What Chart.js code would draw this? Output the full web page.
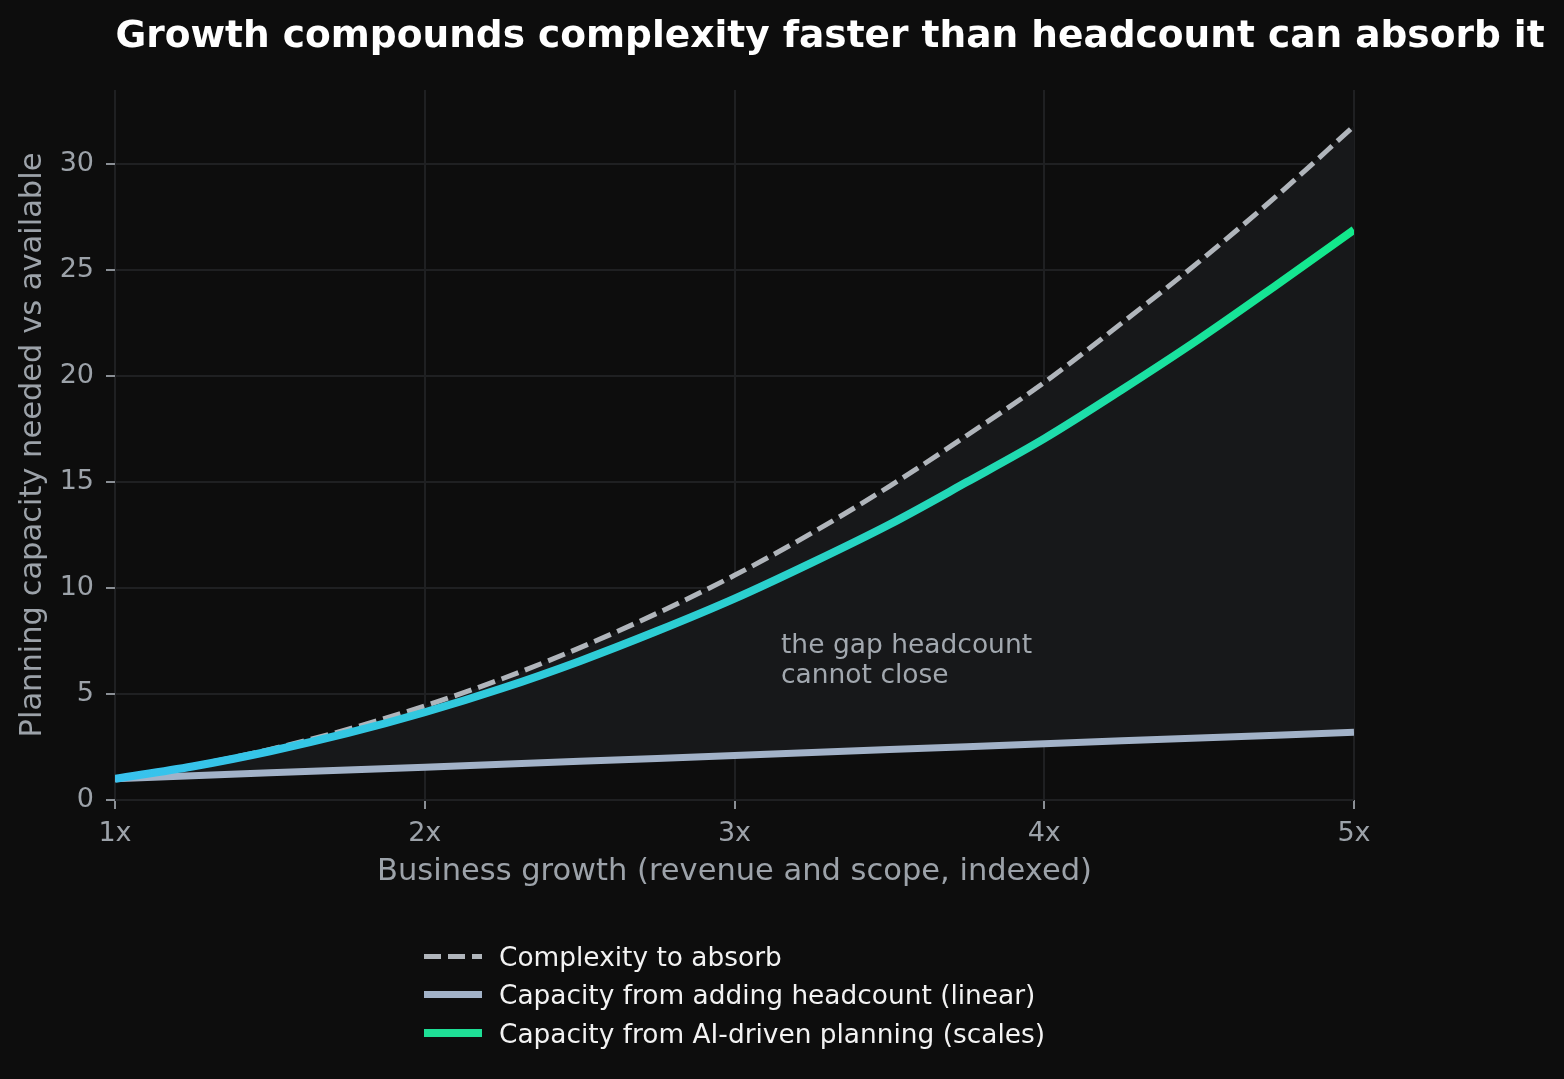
<!DOCTYPE html>
<html>
<head>
<meta charset="utf-8">
<script src="https://cdn.jsdelivr.net/npm/chart.js@4.4.1/dist/chart.umd.min.js"></script>
<style>
  html, body { margin: 0; padding: 0; background: #0d0d0d; overflow: hidden; }
  #wrap { position: relative; width: 1564px; height: 1079px; }
  #legend { position: absolute; left: 424px; top: 937px; font-family: "DejaVu Sans", sans-serif; font-size: 26.4px; color: #f2f2f2; }
  .row { display: flex; align-items: center; height: 38.5px; }
  .swatch { width: 58px; margin-right: 17px; }
</style>
</head>
<body>
<div id="wrap">
  <canvas id="myChart" width="1564" height="1079"></canvas>
  <div id="legend">
    <div class="row"><div class="swatch" style="height:5px;background:repeating-linear-gradient(to right,#b0b5bb 0 17px,transparent 17px 24px)"></div>Complexity to absorb</div>
    <div class="row"><div class="swatch" style="height:7px;background:#a2b2c8"></div>Capacity from adding headcount (linear)</div>
    <div class="row"><div class="swatch" style="height:8px;background:#1edf96"></div>Capacity from AI-driven planning (scales)</div>
  </div>
</div>
<script>
const growth = [1, 1.25, 1.5, 1.75, 2, 2.25, 2.5, 2.75, 3, 3.25, 3.5, 3.75, 4, 4.25, 4.5, 4.75, 5];
const complexity = [1, 1.62, 2.39, 3.33, 4.44, 5.72, 7.18, 8.81, 10.6, 12.6, 14.8, 17.2, 19.7, 22.5, 25.4, 28.5, 31.8];
const headcount = [1, 1.14, 1.28, 1.41, 1.55, 1.69, 1.83, 1.96, 2.1, 2.24, 2.38, 2.51, 2.65, 2.79, 2.93, 3.06, 3.2];
const aiPlanning = [1, 1.58, 2.3, 3.15, 4.14, 5.27, 6.55, 7.97, 9.5, 11.2, 13.0, 15.0, 17.05, 19.35, 21.75, 24.3, 26.9];
const xTicks = [1, 2, 3, 4, 5];
const yTicks = [0, 5, 10, 15, 20, 25, 30];

const FONT = '"DejaVu Sans", sans-serif';
const TICK_COLOR = '#9ca2a9';
const GRID_COLOR = '#1f2022';

function points(values) {
    return growth.map((g, i) => ({ x: g, y: values[i] }));
}

function aiGradient(context) {
    const area = context.chart.chartArea;
    if (!area) return '#2ccfd2';
    const g = context.chart.ctx.createLinearGradient(area.left, 0, area.right, 0);
    g.addColorStop(0, '#38c2ee');
    g.addColorStop(0.5, '#2bcfd0');
    g.addColorStop(1, '#12e98a');
    return g;
}

// title + annotation text
const textPlugin = {
    id: 'texts',
    afterDraw(chart) {
        const ctx = chart.ctx;
        const x = chart.scales.x, y = chart.scales.y;
        ctx.save();
        ctx.fillStyle = '#ffffff';
        ctx.font = 'bold 37.5px ' + FONT;
        ctx.textAlign = 'center';
        ctx.textBaseline = 'middle';
        ctx.fillText('Growth compounds complexity faster than headcount can absorb it', 830, 37);

        ctx.fillStyle = '#a2a8af';
        ctx.font = '26.5px ' + FONT;
        ctx.textAlign = 'left';
        const ax = x.getPixelForValue(3.15);
        ctx.fillText('the gap headcount', ax, y.getPixelForValue(7.25));
        ctx.fillText('cannot close', ax, y.getPixelForValue(5.85));
        ctx.restore();
    }
};

new Chart(document.getElementById('myChart'), {
    type: 'line',
    data: {
        datasets: [{
            label: 'Complexity to absorb',
            data: points(complexity),
            borderColor: '#b0b5bb',
            borderWidth: 5,
            borderDash: [18, 7],
            borderCapStyle: 'butt',
            fill: 1,
            backgroundColor: '#17181a',
            pointRadius: 0,
            order: 3,
            cubicInterpolationMode: 'monotone'
        }, {
            label: 'Capacity from adding headcount (linear)',
            data: points(headcount),
            borderColor: '#a2b2c8',
            borderWidth: 7,
            fill: false,
            pointRadius: 0,
            order: 2
        }, {
            label: 'Capacity from AI-driven planning (scales)',
            data: points(aiPlanning),
            borderColor: aiGradient,
            borderWidth: 8,
            fill: false,
            pointRadius: 0,
            order: 1,
            cubicInterpolationMode: 'monotone'
        }]
    },
    options: {
        responsive: false,
        animation: false,
        events: [],
        layout: { padding: { left: 0, top: 90, right: 210, bottom: 179 } },
        plugins: {
            legend: { display: false },
            tooltip: { enabled: false },
            filler: { drawTime: 'beforeDatasetsDraw' }
        },
        scales: {
            x: {
                type: 'linear',
                min: 1,
                max: 5,
                afterBuildTicks: s => { s.ticks = xTicks.map(v => ({ value: v })); },
                afterFit: s => { s.height = 100; s.paddingLeft = 0; s.paddingRight = 0; },
                ticks: {
                    color: TICK_COLOR,
                    font: { family: FONT, size: 27 },
                    padding: 9,
                    maxRotation: 0,
                    callback: v => v + 'x'
                },
                grid: { color: GRID_COLOR, lineWidth: 2, tickLength: 9, tickColor: '#8a8f95', tickWidth: 2 },
                border: { display: false },
                title: {
                    display: true,
                    text: 'Business growth (revenue and scope, indexed)',
                    color: TICK_COLOR,
                    font: { family: FONT, size: 30.5 },
                    padding: { top: 0, bottom: 10 }
                }
            },
            y: {
                min: 0,
                max: 33.5,
                afterBuildTicks: s => { s.ticks = yTicks.map(v => ({ value: v })); },
                afterFit: s => { s.width = 115; s.paddingTop = 0; s.paddingBottom = 0; },
                ticks: {
                    color: TICK_COLOR,
                    font: { family: FONT, size: 27 },
                    padding: 12
                },
                grid: { color: GRID_COLOR, lineWidth: 2, tickLength: 9, tickColor: '#8a8f95', tickWidth: 2 },
                border: { display: false },
                title: {
                    display: true,
                    text: 'Planning capacity needed vs available',
                    color: TICK_COLOR,
                    font: { family: FONT, size: 30.5 },
                    padding: { top: 15, bottom: 0 }
                }
            }
        }
    },
    plugins: [textPlugin]
});
</script>
</body>
</html>
